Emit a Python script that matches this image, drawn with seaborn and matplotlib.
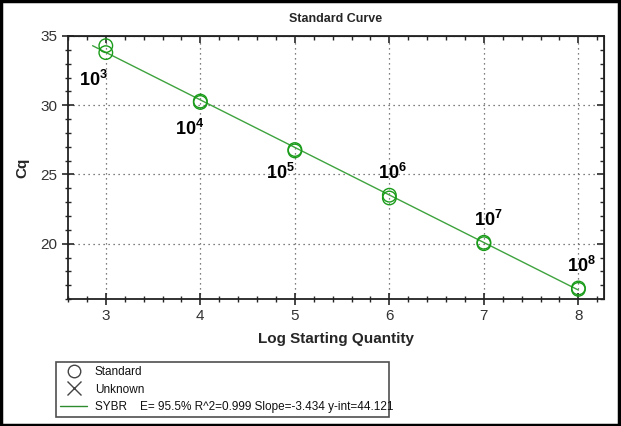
import matplotlib
matplotlib.use("Agg")
import matplotlib.pyplot as plt
import seaborn as sns
import pandas as pd
from matplotlib.lines import Line2D
from matplotlib.patches import Rectangle
from matplotlib.ticker import MultipleLocator, NullFormatter

# data (duplicates at each dilution)
log_qty = [3, 3, 4, 4, 5, 5, 6, 6, 7, 7, 8, 8]
cq = [34.3, 33.8, 30.3, 30.2, 26.8, 26.7, 23.5, 23.3, 20.1, 20.0, 16.8, 16.7]

# fit reported in the legend
slope = -3.434
y_int = 44.121
fit_x = [2.86, 8.0]

# dilution labels
label_x = [2.87, 3.89, 4.85, 6.03, 7.05, 8.03]
label_y = [31.8, 28.3, 25.1, 25.1, 21.7, 18.4]
exponents = [3, 4, 5, 6, 7, 8]

legend_text = "SYBR    E= 95.5% R^2=0.999 Slope=-3.434 y-int=44.121"

sns.set_style("ticks")
plt.rcParams['font.family'] = ['Liberation Sans', 'DejaVu Sans']
plt.rcParams['mathtext.fontset'] = 'custom'
plt.rcParams['mathtext.rm'] = 'Liberation Sans'
plt.rcParams['mathtext.bf'] = 'Liberation Sans:bold'

df = pd.DataFrame({'log_qty': log_qty, 'cq': cq})
fit_df = pd.DataFrame({'x': fit_x, 'y': [y_int + slope * v for v in fit_x]})

fig = plt.figure(figsize=(6.21, 4.26), dpi=100)
ax = fig.add_axes([0.1095, 0.298, 0.863, 0.6175])

line_green = '#3ea33e'
pt_green = '#1a9c1a'

sns.lineplot(data=fit_df, x='x', y='y', ax=ax, color=line_green, linewidth=1.0)
sns.scatterplot(data=df, x='log_qty', y='cq', ax=ax, marker='o', s=95,
                facecolors='none', edgecolor=pt_green, linewidth=1.0, zorder=3)

for lx, ly, e in zip(label_x, label_y, exponents):
    ax.text(lx, ly, r'$\mathbf{10^{%d}}$' % e, ha='center', va='center',
            fontsize=13, color='black')

ax.set_xlim(2.6, 8.27)
ax.set_ylim(16, 35)
ax.xaxis.set_major_locator(MultipleLocator(1))
ax.xaxis.set_minor_locator(MultipleLocator(0.2))
ax.yaxis.set_major_locator(MultipleLocator(5))
ax.yaxis.set_minor_locator(MultipleLocator(1))
ax.grid(True, which='major', linestyle=(0, (1, 3)), color='#555555', linewidth=0.9)

ax.tick_params(which='major', direction='inout', length=8, width=1.2,
               labelsize=11, labelcolor='#333333')
ax.tick_params(which='minor', direction='inout', length=5, width=1.0)
for s in ax.spines.values():
    s.set_linewidth(1.3)
    s.set_color('#222222')

# inward ticks on the top and right edges, no labels
top = ax.secondary_xaxis('top')
top.xaxis.set_major_locator(MultipleLocator(1))
top.xaxis.set_minor_locator(MultipleLocator(0.2))
top.xaxis.set_major_formatter(NullFormatter())
top.tick_params(which='major', direction='in', length=5, width=1.2)
top.tick_params(which='minor', direction='in', length=3, width=1.0)

right = ax.secondary_yaxis('right')
right.yaxis.set_major_locator(MultipleLocator(5))
right.yaxis.set_minor_locator(MultipleLocator(1))
right.yaxis.set_major_formatter(NullFormatter())
right.tick_params(which='major', direction='in', length=5, width=1.2)
right.tick_params(which='minor', direction='in', length=3, width=1.0)

ax.set_xlabel('Log Starting Quantity', fontsize=11, fontweight='bold', labelpad=6)
ax.set_ylabel('Cq', fontsize=11, fontweight='bold', labelpad=8)
ax.set_title('Standard Curve', fontsize=9, fontweight='bold', pad=10)

handles = [
    Line2D([], [], linestyle='none', marker='o', markerfacecolor='none',
           markeredgecolor='#444444', markersize=9),
    Line2D([], [], linestyle='none', marker='x', color='#444444', markersize=10),
    Line2D([], [], color='#2e8b2e', linewidth=1.0),
]
leg = fig.legend(handles, ['Standard', 'Unknown', legend_text],
                 loc='lower left', bbox_to_anchor=(0.090, 0.021, 0.536, 0.138),
                 mode='expand', fontsize=8.5, frameon=True, fancybox=False,
                 edgecolor='#222222', borderpad=0.35, labelspacing=0.45,
                 handlelength=2.3, handletextpad=0.65, borderaxespad=0)
leg.get_frame().set_linewidth(1.2)
for t in leg.get_texts():
    t.set_color('#111111')

fig.patches.append(Rectangle((0.002, 0.003), 0.994, 0.994, transform=fig.transFigure,
                             fill=False, edgecolor='black', linewidth=2.5))

fig.savefig('out.png', dpi=100)
